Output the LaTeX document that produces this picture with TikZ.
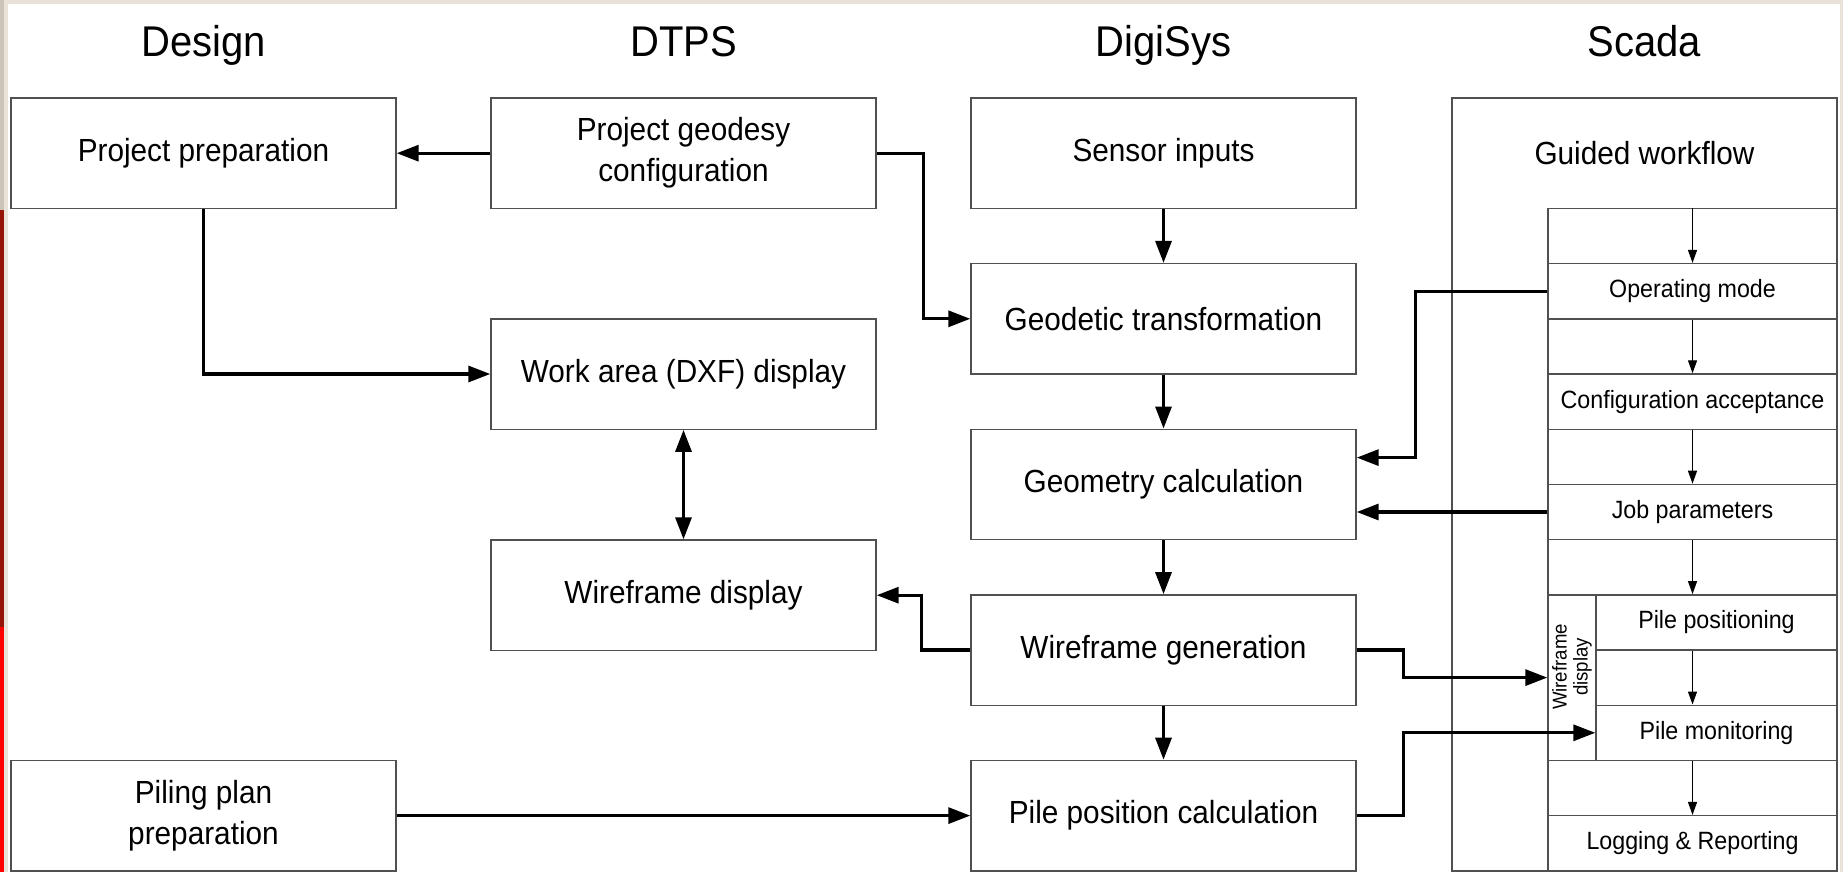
\documentclass[tikz,border=0pt]{standalone}
\usepackage{fontspec}
\setmainfont[FakeStretch=0.93]{Liberation Sans}
\usetikzlibrary{arrows.meta,calc}
\definecolor{bgbeige}{RGB}{233,226,217}
\definecolor{stripgray}{RGB}{205,196,185}
\definecolor{stripdark}{RGB}{148,21,8}
\definecolor{stripred}{RGB}{255,0,0}
\definecolor{boxgray}{RGB}{80,80,80}
\tikzset{
  box/.style={draw=boxgray, line width=1.4pt, minimum width=385pt, minimum height=110.4pt, inner sep=0pt, align=center, font=\fontsize{32}{41}\selectfont},
  sbox/.style={draw=boxgray, line width=1.4pt, minimum width=289pt, minimum height=55.2pt, inner sep=0pt, font=\fontsize{25}{30}\selectfont},
  coltitle/.style={font=\fontsize{43}{50}\selectfont, anchor=base, inner sep=0pt},
  bigarrow/.style={line width=3.2pt, -{Triangle[length=22pt,width=16pt]}},
  botharrow/.style={line width=3.2pt, {Triangle[length=22pt,width=16pt]}-{Triangle[length=22pt,width=16pt]}},
  smallarrow/.style={line width=1.3pt, -{Triangle[length=13pt,width=9pt]}},
}
\begin{document}
\begin{tikzpicture}[x=1pt,y=-1pt]
\useasboundingbox (0,0) rectangle (1843,872);
% screen frame
\fill[bgbeige] (0,0) rectangle (1843,872);
\fill[white] (7.5,4.5) rectangle (1840,872);
\fill[stripgray] (0,0) rectangle (3.5,210);
\fill[stripdark] (0,210) rectangle (3.5,627);
\fill[stripred] (0,627) rectangle (3.5,872);

% column titles
\node[coltitle] (tdesign) at (203.5,57) {Design};
\node[coltitle] (tdtps) at (683.5,57) {DTPS};
\node[coltitle] (tdigi) at (1163.5,57) {DigiSys};
\node[coltitle] (tscada) at (1644.5,57) {Scada};

% Design / DTPS / DigiSys boxes
\node[box] (prep) at (203.5,153.2) {Project preparation};
\node[box] (geod) at (683.5,153.2) {Project geodesy\\configuration};
\node[box] (sens) at (1163.5,153.2) {Sensor inputs};
\node[box] (geot) at (1163.5,318.8) {Geodetic transformation};
\node[box] (work) at (683.5,374) {Work area (DXF) display};
\node[box] (geom) at (1163.5,484.4) {Geometry calculation};
\node[box] (wdisp) at (683.5,595.2) {Wireframe display};
\node[box] (gen) at (1163.5,650) {Wireframe generation};
\node[box] (plan) at (203.5,815.6) {Piling plan\\preparation};
\node[box] (ppc) at (1163.5,815.6) {Pile position calculation};

% Scada container
\node[draw=boxgray, line width=1.4pt, minimum width=385pt, minimum height=772.8pt, inner sep=0pt] (scada) at (1644.5,484.4) {};
\node[font=\fontsize{32}{41}\selectfont, inner sep=0pt] (gw) at (1644.5,153.2) {Guided workflow};
\draw[boxgray, line width=1.4pt] (1548,870.8) |- (1837,208.4);
\coordinate (gwtop) at (1692.5,208.4);

\node[sbox] (opm) at (1692.5,291.2) {Operating mode};
\node[sbox] (conf) at (1692.5,401.6) {Configuration acceptance};
\node[sbox] (jobp) at (1692.5,512) {Job parameters};
\node[sbox, minimum width=241pt] (ppos) at (1716.5,622.4) {Pile positioning};
\node[sbox, minimum width=241pt] (pmon) at (1716.5,732.8) {Pile monitoring};
\node[draw=boxgray, line width=1.4pt, minimum width=48pt, minimum height=165.6pt, inner sep=0pt] (wfd) at (1572,677.6) {};
\node[rotate=90, align=center, inner sep=0pt, font=\fontsize{20}{21}\selectfont] (wfdtext) at (1572,667) {Wireframe\\display};
\node[sbox] (log) at (1692.5,843.2) {Logging \& Reporting};

% thick connectors
\draw[bigarrow] (geod.west) -- (prep.east);
\draw[bigarrow] (geod.east) -- ++(47,0) |- (geot.west);
\draw[bigarrow] (prep.south) |- (work.west);
\draw[botharrow] (work.south) -- (wdisp.north);
\draw[bigarrow] (sens.south) -- (geot.north);
\draw[bigarrow] (geot.south) -- (geom.north);
\draw[bigarrow] (geom.south) -- (gen.north);
\draw[bigarrow] (gen.south) -- (ppc.north);
\draw[bigarrow] (opm.west) -- ++(-132,0) |- ([yshift=26.8pt]geom.east);
\draw[bigarrow] (jobp.west) -- (jobp.west -| geom.east);
\draw[bigarrow] (gen.west) -- ++(-49,0) |- (wdisp.east);
\draw[bigarrow] (gen.east) -- ++(47,0) |- (wfd.west);
\draw[bigarrow] (ppc.east) -- ++(47,0) |- (pmon.west);
\draw[bigarrow] (plan.east) -- (ppc.west);

% thin workflow arrows
\draw[smallarrow] (gwtop) -- (opm.north);
\draw[smallarrow] (opm.south) -- (conf.north);
\draw[smallarrow] (conf.south) -- (jobp.north);
\draw[smallarrow] (jobp.south) -- (jobp.south |- ppos.north);
\draw[smallarrow] (jobp.south |- ppos.south) -- (jobp.south |- pmon.north);
\draw[smallarrow] (jobp.south |- pmon.south) -- (log.north);
\end{tikzpicture}
\end{document}
